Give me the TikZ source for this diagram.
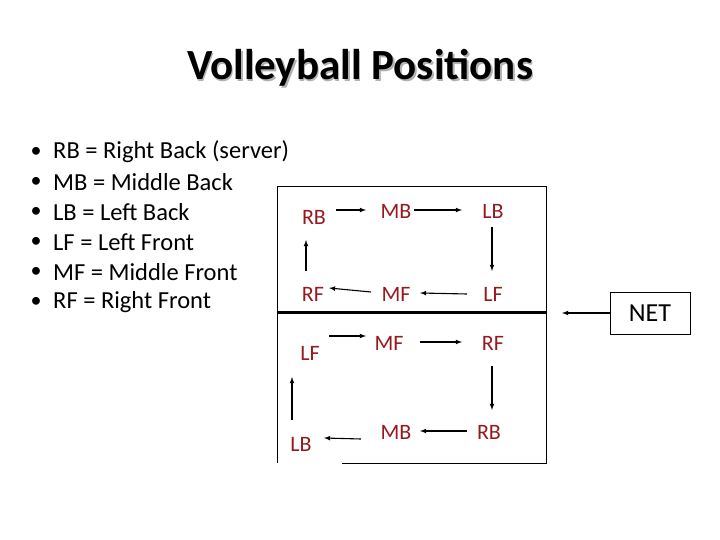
\documentclass[tikz,border=0pt]{standalone}
\usepackage{fontspec}
\setmainfont{Carlito}
\definecolor{pos}{RGB}{150,25,30}
\begin{document}
\begin{tikzpicture}[x=1pt,y=-1pt,
 lab/.style={text=pos,font=\fontsize{22}{24}\selectfont,inner sep=1pt},
 ar/.style={-latex,line width=1.1pt},
 item/.style={anchor=west,font=\fontsize{24.5}{26}\selectfont,inner sep=0pt}]
\useasboundingbox (0,0) rectangle (720,540);
\node[font=\bfseries\fontsize{43}{46}\selectfont,text=gray!60] at (361.5,69.5) {Volleyball Positions};
\node (title)[font=\bfseries\fontsize{43}{46}\selectfont] at (360,68) {Volleyball Positions};
\foreach \y/\a/\t [count=\i] in {152/RB/Right Back (server),182/MB/Middle Back,212/LB/Left Back,242/LF/Left Front,272/MF/Middle Front,302/RF/Right Front}{
 \node (b\i)[font=\fontsize{22}{24}\selectfont] at (36,\y) {•};
 \node (t\i)[item] at (53,\y) {\a{} = \t};
}
% court
\draw[line width=0.8pt] (342,463) -- (546,463) -- (546,186) -- (277,186) -- (277,463);
\draw[line width=3pt] (277,312) -- (546,312);
\node (rb1)[lab] at (314,217) {RB};
\node (mb1)[lab] at (396,211) {MB};
\node (lb1)[lab] at (493,211) {LB};
\node (rf1)[lab] at (313,294) {RF};
\node (mf1)[lab] at (396,294) {MF};
\node (lf1)[lab] at (493,294) {LF};
\node (lf2)[lab] at (310,353) {LF};
\node (mf2)[lab] at (389,343) {MF};
\node (rf2)[lab] at (493,343) {RF};
\node (lb2)[lab] at (301,444) {LB};
\node (mb2)[lab] at (396,432) {MB};
\node (rb2)[lab] at (489,432) {RB};
\node (net)[draw,line width=0.8pt,minimum width=80pt,minimum height=42pt,font=\fontsize{26}{28}\selectfont] at (650,313) {NET};
\coordinate (netend) at (562,313);
\draw[ar] (336,210) -- (366,210);
\draw[ar] (414,210) -- (462,210);
\draw[ar] (492,227) -- (492,271);
\draw[ar] (467,294) -- (420,293);
\draw[ar] (371,292) -- (329,288);
\draw[ar] (306,271) -- (306,240);
\draw[ar] (net.west) -- (netend);
\draw[ar] (329,336) -- (366,336);
\draw[ar] (420,342) -- (462,342);
\draw[ar] (492,366) -- (492,410);
\draw[ar] (467,431) -- (420,431);
\draw[ar] (361,439) -- (324,438);
\draw[ar] (292,420) -- (292,377);
\end{tikzpicture}
\end{document}
